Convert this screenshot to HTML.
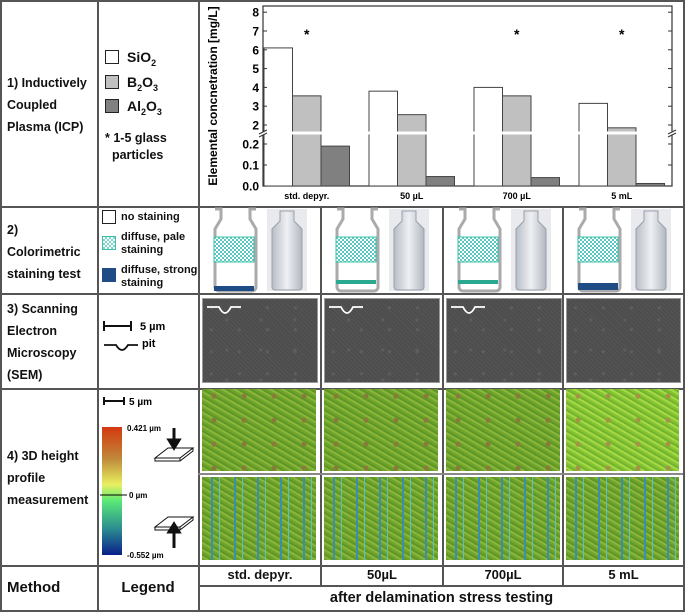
<!DOCTYPE html>
<html><head><meta charset="utf-8"><style>
body{margin:0;background:#fff;}
#root{position:relative;width:685px;height:612px;overflow:hidden;font-family:"Liberation Sans",sans-serif;font-weight:bold;color:#111;}
.t{position:absolute;font-size:12.5px;line-height:22px;white-space:nowrap;}
.ln{position:absolute;background:#555;}
.img{position:absolute;}
.sem{background:radial-gradient(circle at 30% 40%,#5e5e5e 0 1.2px,transparent 2px),radial-gradient(circle at 70% 70%,#5e5e5e 0 1.2px,transparent 2px),repeating-linear-gradient(45deg,#555 0 1px,#4d4d4d 1px 3px);background-color:#505050;background-size:28px 22px,34px 30px,auto;border:1px solid #999;}
.h3u{background:radial-gradient(circle at 40% 30%,#8a7a3a 0 2px,transparent 3px),repeating-linear-gradient(30deg,#6fa42a 0 2px,#8ab43a 2px 4px,#5f9628 4px 6px);background-size:30px 24px,auto;}
.h3d{background:repeating-linear-gradient(90deg,transparent 0 9px,#3a8fb0 9px 11px,transparent 11px 17px,#5cc0c8 17px 18px,transparent 18px 23px),repeating-linear-gradient(30deg,#6fa42a 0 2px,#8ab43a 2px 4px,#5f9628 4px 6px);}
.cb{position:absolute;width:12px;height:12px;border:1.5px solid #222;}
</style></head><body>
<div id="root">
<div class="ln" style="left:0;top:0;width:685px;height:1.5px"></div>
<div class="ln" style="left:0;top:206px;width:685px;height:1.5px"></div>
<div class="ln" style="left:0;top:293px;width:685px;height:1.5px"></div>
<div class="ln" style="left:0;top:388px;width:685px;height:1.5px"></div>
<div class="ln" style="left:0;top:565px;width:685px;height:1.5px"></div>
<div class="ln" style="left:198px;top:585px;width:487px;height:1.5px"></div>
<div class="ln" style="left:0;top:610px;width:685px;height:1.5px"></div>
<div class="ln" style="left:0;top:0;width:1.5px;height:612px"></div>
<div class="ln" style="left:97px;top:0;width:1.5px;height:612px"></div>
<div class="ln" style="left:198px;top:0;width:1.5px;height:612px"></div>
<div class="ln" style="left:683px;top:0;width:1.5px;height:612px"></div>
<div class="ln" style="left:320px;top:206px;width:1.5px;height:379px"></div>
<div class="ln" style="left:442px;top:206px;width:1.5px;height:379px"></div>
<div class="ln" style="left:562px;top:206px;width:1.5px;height:379px"></div>

<div class="t" style="left:7px;top:72px">1) Inductively<br>Coupled<br>Plasma (ICP)</div>
<div class="t" style="left:7px;top:219px">2)<br>Colorimetric<br>staining test</div>
<div class="t" style="left:7px;top:298px">3) Scanning<br>Electron<br>Microscopy<br>(SEM)</div>
<div class="t" style="left:7px;top:445px">4) 3D height<br>profile<br>measurement</div>
<div class="t" style="left:7px;top:577px;font-size:15px">Method</div>
<div class="t" style="left:98px;width:100px;text-align:center;top:577px;font-size:15px">Legend</div>
<div class="t" style="left:200px;width:120px;text-align:center;top:564px;font-size:13px">std. depyr.</div>
<div class="t" style="left:322px;width:120px;text-align:center;top:564px;font-size:13px">50µL</div>
<div class="t" style="left:444px;width:118px;text-align:center;top:564px;font-size:13px">700µL</div>
<div class="t" style="left:564px;width:119px;text-align:center;top:564px;font-size:13px">5 mL</div>
<div class="t" style="left:200px;width:483px;text-align:center;top:587px;font-size:14.5px">after delamination stress testing</div>

<div class="cb" style="left:105px;top:50px;background:#fff"></div>
<div class="t" style="left:127px;top:46px;font-size:14px">SiO<sub style="font-size:9px">2</sub></div>
<div class="cb" style="left:105px;top:75px;background:#c0c0c0"></div>
<div class="t" style="left:127px;top:71px;font-size:14px">B<sub style="font-size:9px">2</sub>O<sub style="font-size:9px">3</sub></div>
<div class="cb" style="left:105px;top:99px;background:#808080"></div>
<div class="t" style="left:127px;top:95px;font-size:14px">Al<sub style="font-size:9px">2</sub>O<sub style="font-size:9px">3</sub></div>
<div class="t" style="left:105px;top:130px;line-height:17px">* 1-5 glass<br>&nbsp;&nbsp;particles</div>

<div class="cb" style="left:102px;top:210px;background:#fff"></div>
<div class="t" style="left:121px;top:206px;font-size:11px">no staining</div>
<div class="cb" style="left:102px;top:236px;background:repeating-conic-gradient(#7fd6cc 0 25%,#fff 0 50%) 0 0/4px 4px;border-color:#3cc0a8"></div>
<div class="t" style="left:121px;top:231px;font-size:11px;line-height:13px">diffuse, pale<br>staining</div>
<div class="cb" style="left:102px;top:268px;background:#204c86;border-color:#204c86"></div>
<div class="t" style="left:121px;top:264px;font-size:11px;line-height:13px">diffuse, strong<br>staining</div>

<svg style="position:absolute;left:100px;top:315px" width="90" height="40">
<path d="M4 11H31M4 6V16M31 6V16" stroke="#111" stroke-width="2"/>
<text x="40" y="15" font-size="11" font-weight="bold" font-family="Liberation Sans">5 µm</text>
<path d="M4 30H16Q19 35 22 35Q25 35 28 30H38" stroke="#111" stroke-width="1.8" fill="none"/>
<text x="42" y="32" font-size="11" font-weight="bold" font-family="Liberation Sans">pit</text>
</svg>

<svg style="position:absolute;left:100px;top:390px" width="98" height="175">
<path d="M4 11H24M4 7V15M24 7V15" stroke="#111" stroke-width="2"/>
<text x="29" y="15" font-size="10" font-weight="bold" font-family="Liberation Sans">5 µm</text>
<defs><linearGradient id="cg" x1="0" y1="0" x2="0" y2="1">
<stop offset="0" stop-color="#d4380f"/><stop offset="0.25" stop-color="#c08a3a"/><stop offset="0.45" stop-color="#e8f060"/><stop offset="0.58" stop-color="#58e878"/><stop offset="0.8" stop-color="#2a8a90"/><stop offset="1" stop-color="#0a1f8a"/></linearGradient></defs>
<rect x="2" y="37" width="20" height="128" fill="url(#cg)"/>
<line x1="0" y1="105" x2="27" y2="105" stroke="#000"/>
<text x="27" y="41" font-size="8" font-weight="bold" font-family="Liberation Sans">0.421 µm</text>
<text x="29" y="108" font-size="8" font-weight="bold" font-family="Liberation Sans">0 µm</text>
<text x="27" y="168" font-size="8" font-weight="bold" font-family="Liberation Sans">-0.552 µm</text>
<path d="M55 68L68 58H93L80 68Z" fill="#fff" stroke="#111"/><path d="M55 68V71H80L93 61V58M80 68V71" fill="none" stroke="#111"/>
<path d="M74 38V56M69 50L74 58L79 50Z" stroke="#111" stroke-width="3" fill="#111"/>
<path d="M55 137L68 127H93L80 137Z" fill="#fff" stroke="#111"/><path d="M55 137V140H80L93 130V127M80 137V140" fill="none" stroke="#111"/>
<path d="M74 158V138M69 142L74 134L79 142Z" stroke="#111" stroke-width="3" fill="#111"/>
</svg>

<svg style="position:absolute;left:200px;top:207px" width="483" height="86">
<defs><pattern id="chk" width="4" height="4" patternUnits="userSpaceOnUse"><rect width="4" height="4" fill="#fff"/><rect width="2" height="2" fill="#58c8c0"/><rect x="2" y="2" width="2" height="2" fill="#58c8c0"/></pattern>
<linearGradient id="ph" x1="0" x2="1"><stop offset="0" stop-color="#b8bec6"/><stop offset="0.5" stop-color="#eef0f4"/><stop offset="1" stop-color="#b2b8c0"/></linearGradient>
<g id="photo"><rect x="67" y="2" width="40" height="82" fill="#e8eaee"/><path d="M80 4h14v10l8 8v58a3 3 0 0 1-3 3H75a3 3 0 0 1-3-3V22l8-8Z" fill="url(#ph)" stroke="#9aa0a8"/></g></defs>
<g>
<path d="M15 2h6v10l-6 10v58a4 4 0 0 0 4 4h33a4 4 0 0 0 4-4V22l-6-10V2h6" fill="#fff" stroke="#aaa" stroke-width="3"/>
<rect x="14" y="30" width="40" height="25" fill="url(#chk)" stroke="#3cc0a8"/>
<rect x="14" y="79" width="40" height="5" fill="#204c86"/>
<use href="#photo"/></g>
<g transform="translate(122,0)"><path d="M15 2h6v10l-6 10v58a4 4 0 0 0 4 4h33a4 4 0 0 0 4-4V22l-6-10V2h6" fill="#fff" stroke="#aaa" stroke-width="3"/><rect x="14" y="30" width="40" height="25" fill="url(#chk)" stroke="#3cc0a8"/><rect x="14" y="73" width="40" height="4" fill="#2aa890"/><use href="#photo"/></g>
<g transform="translate(244,0)"><path d="M15 2h6v10l-6 10v58a4 4 0 0 0 4 4h33a4 4 0 0 0 4-4V22l-6-10V2h6" fill="#fff" stroke="#aaa" stroke-width="3"/><rect x="14" y="30" width="40" height="25" fill="url(#chk)" stroke="#3cc0a8"/><rect x="14" y="73" width="40" height="4" fill="#2aa890"/><use href="#photo"/></g>
<g transform="translate(364,0)"><path d="M15 2h6v10l-6 10v58a4 4 0 0 0 4 4h33a4 4 0 0 0 4-4V22l-6-10V2h6" fill="#fff" stroke="#aaa" stroke-width="3"/><rect x="14" y="30" width="40" height="25" fill="url(#chk)" stroke="#3cc0a8"/><rect x="14" y="76" width="40" height="7" fill="#204c86"/><use href="#photo"/></g>
</svg>

<div class="img sem" style="left:202px;top:298px;width:114px;height:83px"></div>
<div class="img sem" style="left:324px;top:298px;width:114px;height:83px"></div>
<div class="img sem" style="left:446px;top:298px;width:114px;height:83px"></div>
<div class="img sem" style="left:566px;top:298px;width:113px;height:83px;background-color:#5a5a5a"></div>
<svg style="position:absolute;left:205px;top:303px" width="480" height="12">
<path d="M2 4H14Q17 10 20 10Q23 10 26 4H36M124 4H136Q139 10 142 10Q145 10 148 4H158M246 4H258Q261 10 264 10Q267 10 270 4H280" stroke="#fff" stroke-width="1.8" fill="none"/></svg>

<div class="img h3u" style="left:202px;top:389px;width:114px;height:82px"></div>
<div class="img h3u" style="left:324px;top:389px;width:114px;height:82px"></div>
<div class="img h3u" style="left:446px;top:389px;width:114px;height:82px"></div>
<div class="img h3u" style="left:566px;top:389px;width:113px;height:82px;filter:brightness(1.2)"></div>
<div class="img h3d" style="left:202px;top:477px;width:114px;height:83px"></div>
<div class="img h3d" style="left:324px;top:477px;width:114px;height:83px"></div>
<div class="img h3d" style="left:446px;top:477px;width:114px;height:83px"></div>
<div class="img h3d" style="left:566px;top:477px;width:113px;height:83px"></div>
<div class="ln" style="left:198px;top:473px;width:485px;height:1.5px;background:#888"></div>

<svg id="chart" style="position:absolute;left:199px;top:1px" width="484" height="205"></svg>
</div>
<script>
const categories=["std. depyr.","50 µL","700 µL","5 mL"];
const sio2=[6.1,3.8,4.0,3.15];
const b2o3=[3.55,2.55,3.55,1.85];
const al2o3=[0.19,0.045,0.04,0.012];
const starred=[true,false,true,true];
const upperTicks=[2,3,4,5,6,7,8];
const lowerTicks=[0.0,0.1,0.2];
const ns="http://www.w3.org/2000/svg";
const svg=document.getElementById('chart');
const OX=199,OY=1;
const L=263-OX,R=672-OX,T=6-OY,B=186-OY,BRK=133-OY;
function y(v){
  if(v<=0.25) return B-(v/0.1)*21;
  return (125-OY)-(v-2)*18.8;
}
const gw=105;
function gx(i){return L+1+i*gw;}
const bw=28.5;
function el(tag,attrs){const e=document.createElementNS(ns,tag);for(const k in attrs)e.setAttribute(k,attrs[k]);svg.appendChild(e);return e;}
const fr=el('rect',{x:L,y:T,width:R-L,height:B-T,fill:'#fff',stroke:'#333','stroke-width':1.2});


const series=[[sio2,'#fff','sio2'],[b2o3,'#c0c0c0','b2o3'],[al2o3,'#808080','al2o3']];
categories.forEach((c,i)=>{
  series.forEach((s,j)=>{
    const v=s[0][i];const yy=y(v);
    const r=el('rect',{x:gx(i)+j*bw,y:yy,width:bw,height:B-yy,fill:s[1],stroke:'#444','stroke-width':1});
    
    
  });
  const t=el('text',{x:gx(i)+1.5*bw,y:B+13,'text-anchor':'middle','font-size':9,'font-weight':'bold','font-family':'Liberation Sans'});
  t.textContent=c;
  
  
  if(starred[i]){const st=el('text',{x:gx(i)+1.5*bw,y:y(7)+8,'text-anchor':'middle','font-size':14,'font-weight':'bold','font-family':'Liberation Sans'});st.textContent='*';
  
  }
});
upperTicks.concat(lowerTicks).forEach(v=>{
  const yy=y(v);
  el('line',{x1:L,x2:L+4,y1:yy,y2:yy,stroke:'#333'});
  el('line',{x1:R-4,x2:R,y1:yy,y2:yy,stroke:'#333'});
  const t=el('text',{x:L-4,y:yy+4.5,'text-anchor':'end','font-size':12,'font-weight':'bold','font-family':'Liberation Sans'});
  t.textContent=v<1?v.toFixed(1):String(v);
  
  
});
el('rect',{x:L-8,y:BRK-1.5,width:R-L+16,height:3,fill:'#fff'});
[L,R].forEach(x=>{el('path',{d:`M${x-4} ${BRK+1}L${x+4} ${BRK-3}M${x-4} ${BRK+4}L${x+4} ${BRK}`,stroke:'#333',fill:'none'});});
const yt=el('text',{x:0,y:0,transform:`translate(18,${(T+B)/2}) rotate(-90)`,'text-anchor':'middle','font-size':12,'font-weight':'bold','font-family':'Liberation Sans'});
yt.textContent='Elemental concnetration [mg/L]';


</script>
</body></html>
